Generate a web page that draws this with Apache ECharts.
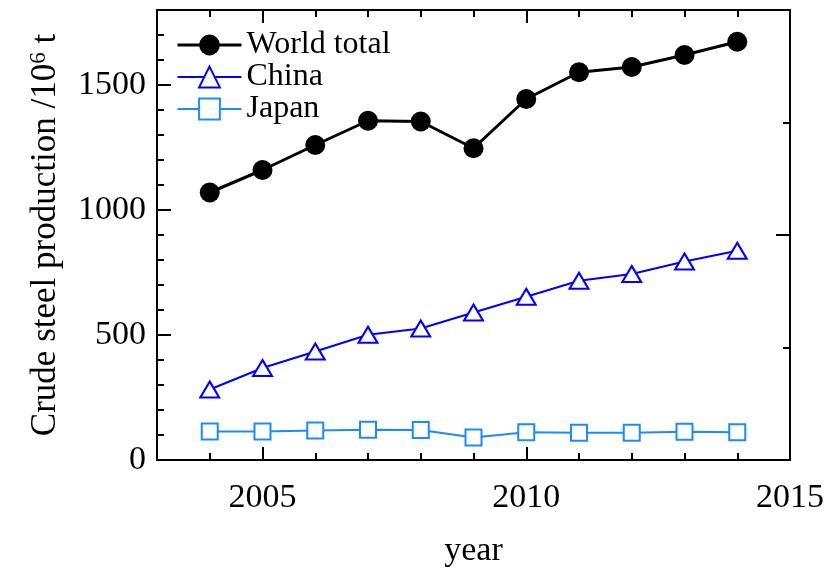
<!DOCTYPE html>
<html>
<head>
<meta charset="utf-8">
<script src="https://cdn.jsdelivr.net/npm/echarts@6/dist/echarts.min.js"></script>
<style>
  html, body { margin: 0; padding: 0; background: #fff; }
  #chart { width: 827px; height: 572px; }
</style>
</head>
<body>
<div id="chart"></div>
<script>
// Crude steel production, 10^6 t
const years = [2004, 2005, 2006, 2007, 2008, 2009, 2010, 2011, 2012, 2013, 2014];
const worldTotal = [1070, 1160, 1260, 1357, 1354, 1247, 1444, 1551, 1572, 1620, 1673];
const china = [282, 368, 434, 501, 526, 590, 653, 717, 744, 794, 837];
const japan = [114, 114, 118, 121, 120, 90, 111, 109, 109, 113, 111];

const xMajorTicks = [2005, 2010];
const xTickLabels = [2005, 2010, 2015];
const yTickLabels = [0, 500, 1000, 1500];

const FONT = '"Liberation Serif", "Times New Roman", serif';
const AXIS_COLOR = '#000';
const plain = v => String(v);

function tick(len, values) {
  const t = { show: true, inside: true, length: len, lineStyle: { color: AXIS_COLOR, width: 2 } };
  if (values) t.customValues = values;
  return t;
}

// frame axis helper: a line with inward ticks, optionally with labels
function frameX(position, opts) {
  return Object.assign({
    type: 'value', position: position, min: 2003, max: 2015, interval: 1,
    axisLine: { show: true, onZero: false, lineStyle: { color: AXIS_COLOR, width: 2 } },
    axisTick: tick(7),
    axisLabel: { show: false },
    splitLine: { show: false }
  }, opts);
}
function frameY(position, opts) {
  return Object.assign({
    type: 'value', position: position, min: 0, max: 1800, interval: 100,
    axisLine: { show: true, onZero: false, lineStyle: { color: AXIS_COLOR, width: 2 } },
    axisTick: tick(7),
    axisLabel: { show: false },
    splitLine: { show: false }
  }, opts);
}
const hiddenLine = { show: false, onZero: false };

const chart = echarts.init(document.getElementById('chart'), null, { renderer: 'canvas' });

chart.setOption({
  animation: false,
  backgroundColor: '#fff',
  textStyle: { fontFamily: FONT },
  grid: { left: 157, right: 37, top: 10, bottom: 112, containLabel: false, outerBoundsMode: 'none' },
  legend: {
    left: 176, top: 29, padding: 0,
    orient: 'vertical',
    itemWidth: 64, itemHeight: 26, itemGap: 0,
    textStyle: { fontFamily: FONT, fontSize: 32, color: '#000', lineHeight: 26 },
    data: [
      { name: 'World total', lineStyle: { width: 3 } },
      { name: 'China', lineStyle: { width: 2 } },
      { name: 'Japan', lineStyle: { width: 2 } }
    ]
  },
  xAxis: [
    frameX('bottom', {
      name: 'year', nameLocation: 'middle', nameGap: 74,
      nameTextStyle: { fontFamily: FONT, fontSize: 34, color: '#000' },
      axisLabel: { show: true, customValues: xTickLabels, formatter: plain, margin: 21, fontFamily: FONT, fontSize: 34, color: '#000' }
    }),
    frameX('bottom', { axisLine: hiddenLine, axisTick: tick(13, xMajorTicks) }),
    frameX('top', {}),
    frameX('top', { axisLine: hiddenLine, axisTick: tick(13, xMajorTicks) })
  ],
  yAxis: [
    frameY('left', {
      name: 'Crude steel production /10{sup|6} t', nameLocation: 'middle', nameGap: 93,
      nameTextStyle: {
        fontFamily: FONT, fontSize: 35, color: '#000',
        rich: { sup: { fontFamily: FONT, fontSize: 23, color: '#000', verticalAlign: 'top', padding: [0, 0, 14, 0] } }
      },
      axisLabel: { show: true, customValues: yTickLabels, formatter: plain, margin: 11, fontFamily: FONT, fontSize: 34, color: '#000' }
    }),
    frameY('left', { axisLine: hiddenLine, axisTick: tick(14, yTickLabels) }),
    {
      type: 'value', position: 'right', min: 0, max: 4, interval: 1,
      axisLine: { show: true, onZero: false, lineStyle: { color: AXIS_COLOR, width: 2 } },
      axisTick: tick(7, [1, 3]),
      axisLabel: { show: false }, splitLine: { show: false }
    },
    {
      type: 'value', position: 'right', min: 0, max: 4, interval: 1,
      axisLine: hiddenLine,
      axisTick: tick(14, [2]),
      axisLabel: { show: false }, splitLine: { show: false }
    }
  ],
  series: [
    {
      name: 'World total', type: 'line', xAxisIndex: 0, yAxisIndex: 0,
      data: years.map((y, i) => [y, worldTotal[i]]),
      symbol: 'circle', symbolSize: 20,
      lineStyle: { color: '#000', width: 3 },
      itemStyle: { color: '#000', borderColor: '#000', borderWidth: 0 },
      z: 4
    },
    {
      name: 'China', type: 'line', xAxisIndex: 0, yAxisIndex: 0,
      data: years.map((y, i) => [y, china[i]]),
      symbol: 'triangle', symbolSize: [19, 16],
      lineStyle: { color: '#0000ff', width: 2 },
      itemStyle: { color: '#fff', borderColor: '#0000ff', borderWidth: 2 },
      z: 3
    },
    {
      name: 'Japan', type: 'line', xAxisIndex: 0, yAxisIndex: 0,
      data: years.map((y, i) => [y, japan[i]]),
      symbol: 'rect', symbolSize: 16,
      lineStyle: { color: '#1a8cff', width: 2 },
      itemStyle: { color: '#fff', borderColor: '#1a8cff', borderWidth: 2 },
      z: 2
    }
  ]
});
</script>
</body>
</html>
